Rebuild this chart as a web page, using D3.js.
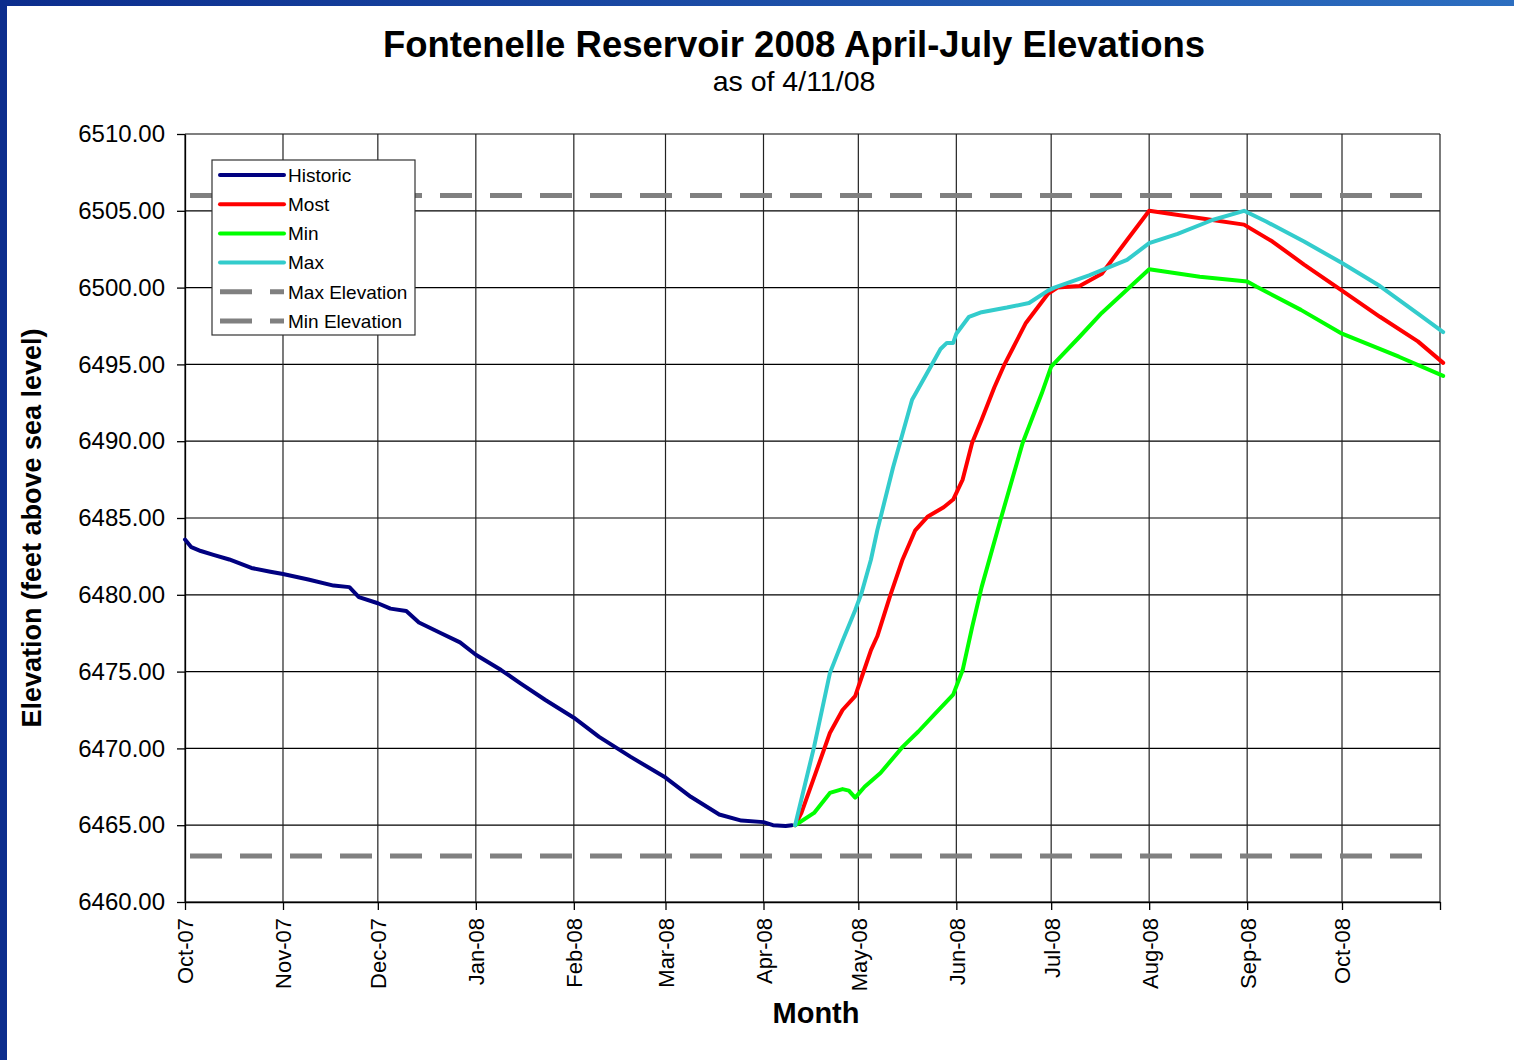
<!DOCTYPE html>
<html>
<head>
<meta charset="utf-8">
<script src="https://cdn.jsdelivr.net/npm/d3@7"></script>
<style>
body { margin:0; background:#fff; }
svg { display:block; font-family:"Liberation Sans", Arial, Helvetica, sans-serif; }
</style>
</head>
<body>
<svg id="chart" width="1514" height="1060"></svg>
<script>
// values (date, feet)
var historic = [
  ["2007-10-01",6483.6],["2007-10-03",6483.1],["2007-10-06",6482.85],["2007-10-10",6482.6],
  ["2007-10-15",6482.3],["2007-10-22",6481.75],["2007-10-28",6481.5],["2007-11-01",6481.35],
  ["2007-11-09",6481.0],["2007-11-17",6480.6],["2007-11-22",6480.5],["2007-11-25",6479.85],
  ["2007-12-01",6479.45],["2007-12-05",6479.1],["2007-12-10",6478.95],["2007-12-14",6478.2],
  ["2007-12-21",6477.5],["2007-12-27",6476.9],["2008-01-01",6476.1],["2008-01-09",6475.1],
  ["2008-01-15",6474.25],["2008-01-23",6473.15],["2008-02-01",6472.0],["2008-02-09",6470.75],
  ["2008-02-19",6469.45],["2008-03-01",6468.1],["2008-03-09",6466.85],["2008-03-18",6465.7],
  ["2008-03-25",6465.3],["2008-04-01",6465.2],["2008-04-04",6465.0],["2008-04-08",6464.95],
  ["2008-04-10",6465.0]
];
var most = [
  ["2008-04-11",6465.0],["2008-04-13",6465.8],["2008-04-22",6471.0],["2008-04-26",6472.5],
  ["2008-04-30",6473.4],["2008-05-02",6474.6],["2008-05-05",6476.4],["2008-05-07",6477.3],
  ["2008-05-11",6479.9],["2008-05-15",6482.3],["2008-05-19",6484.2],["2008-05-23",6485.1],
  ["2008-05-28",6485.7],["2008-05-31",6486.2],["2008-06-03",6487.5],["2008-06-06",6489.9],
  ["2008-06-09",6491.4],["2008-06-13",6493.5],["2008-06-16",6494.9],["2008-06-19",6496.1],
  ["2008-06-23",6497.7],["2008-06-30",6499.6],["2008-07-03",6500.0],["2008-07-10",6500.1],
  ["2008-07-17",6500.9],["2008-07-25",6503.1],["2008-08-01",6505.0],["2008-08-21",6504.4],
  ["2008-08-31",6504.1],["2008-09-09",6503.0],["2008-09-19",6501.5],["2008-10-01",6499.8],
  ["2008-10-13",6498.1],["2008-10-25",6496.5],["2008-11-02",6495.1]
];
var minRun = [
  ["2008-04-11",6465.0],["2008-04-17",6465.8],["2008-04-22",6467.1],["2008-04-26",6467.35],
  ["2008-04-28",6467.25],["2008-04-30",6466.8],["2008-05-03",6467.5],["2008-05-08",6468.4],
  ["2008-05-15",6470.1],["2008-05-20",6471.1],["2008-05-25",6472.2],["2008-05-31",6473.5],
  ["2008-06-03",6475.1],["2008-06-06",6477.9],["2008-06-09",6480.5],["2008-06-15",6484.9],
  ["2008-06-22",6489.9],["2008-06-28",6493.1],["2008-07-01",6494.85],["2008-07-04",6495.5],
  ["2008-07-10",6496.8],["2008-07-17",6498.35],["2008-07-26",6500.05],["2008-08-01",6501.2],
  ["2008-08-17",6500.7],["2008-09-01",6500.4],["2008-09-04",6500.05],["2008-09-18",6498.55],
  ["2008-10-01",6497.0],["2008-10-19",6495.5],["2008-11-02",6494.25]
];
var maxRun = [
  ["2008-04-11",6465.0],["2008-04-17",6470.1],["2008-04-22",6474.9],["2008-04-26",6477.0],
  ["2008-04-30",6479.0],["2008-05-02",6480.1],["2008-05-05",6482.3],["2008-05-07",6484.2],
  ["2008-05-12",6488.3],["2008-05-18",6492.7],["2008-05-24",6494.9],["2008-05-27",6496.0],
  ["2008-05-29",6496.4],["2008-05-31",6496.4],["2008-06-01",6497.0],["2008-06-05",6498.1],
  ["2008-06-09",6498.4],["2008-06-17",6498.7],["2008-06-24",6499.0],["2008-06-30",6499.8],
  ["2008-07-02",6500.0],["2008-07-13",6500.8],["2008-07-25",6501.8],["2008-08-01",6502.9],
  ["2008-08-10",6503.5],["2008-08-21",6504.4],["2008-08-31",6505.0],["2008-09-07",6504.3],
  ["2008-09-19",6503.0],["2008-10-01",6501.6],["2008-10-13",6500.1],["2008-10-25",6498.3],
  ["2008-11-02",6497.1]
];
var maxElevation = 6506;
var minElevation = 6463;
var yTicks = [6460,6465,6470,6475,6480,6485,6490,6495,6500,6505,6510];
var dateRange = ["2007-10-01","2008-11-01"];
var seriesNames = ["Historic","Most","Min","Max","Max Elevation","Min Elevation"];
var seriesColors = ["#000080","#ff0000","#00ff00","#33cccc","#808080","#808080"];

var parse = d3.utcParse("%Y-%m-%d");
var svg = d3.select("#chart");

// slide frame
var grad = svg.append("defs").append("linearGradient").attr("id","band");
grad.append("stop").attr("offset","0%").attr("stop-color","#0c2d8d");
grad.append("stop").attr("offset","100%").attr("stop-color","#2c6ec0");
svg.append("rect").attr("x",0).attr("y",0).attr("width",1514).attr("height",6).attr("fill","url(#band)");
svg.append("rect").attr("x",0).attr("y",0).attr("width",7).attr("height",1060).attr("fill","#0c2d8d");

var x = d3.scaleUtc()
    .domain(dateRange.map(parse))
    .range([185, 1440]);
var y = d3.scaleLinear()
    .domain([6460, 6510])
    .range([902, 134]);
var months = x.ticks(d3.utcMonth.every(1));

// grid
svg.append("g")
   .selectAll("line.h")
   .data(yTicks)
   .enter().append("line")
     .attr("x1", 185).attr("x2", 1440)
     .attr("y1", function(d) { return y(d); })
     .attr("y2", function(d) { return y(d); })
     .attr("stroke", "#000").attr("stroke-width", 1.2);
svg.append("g")
   .selectAll("line.v")
   .data(months)
   .enter().append("line")
     .attr("x1", function(d) { return x(d); })
     .attr("x2", function(d) { return x(d); })
     .attr("y1", 134).attr("y2", 902)
     .attr("stroke", "#222").attr("stroke-width", 1.2);

// axes
var yAxis = svg.append("g")
    .attr("transform", "translate(185,0)")
    .call(d3.axisLeft(y).tickValues(yTicks).tickSizeInner(8).tickSizeOuter(0).tickPadding(12).tickFormat(d3.format(".2f")));
yAxis.selectAll("text").attr("font-size", 24).attr("fill", "#000").attr("font-family", null);
yAxis.selectAll("line, path").attr("stroke", "#000").attr("stroke-width", 1.3);

var last = months[months.length - 1];
var xAxis = svg.append("g")
    .attr("transform", "translate(0,902)")
    .call(d3.axisBottom(x).tickValues(months).tickSizeInner(8).tickSizeOuter(0)
      .tickFormat(function(d) { return +d === +last ? "" : d3.utcFormat("%b-%y")(d); }));
xAxis.selectAll("text")
    .attr("font-size", 22).attr("fill", "#000").attr("font-family", null)
    .attr("text-anchor", "end")
    .attr("transform", "rotate(-90)")
    .attr("x", -16).attr("y", 0).attr("dy", "0.36em");
xAxis.selectAll("line, path").attr("stroke", "#000").attr("stroke-width", 1.3);

// series
var line = d3.line()
    .x(function(d) { return x(parse(d[0])); })
    .y(function(d) { return y(d[1]); });

var flat = function(v) { return dateRange.map(function(d) { return [d, v]; }); };

var series = [historic, most, minRun, maxRun, flat(maxElevation), flat(minElevation)];
series.forEach(function(s, i) {
  var p = svg.append("path")
      .attr("d", line(s))
      .attr("fill", "none")
      .attr("stroke", seriesColors[i])
      .attr("stroke-linejoin", "round")
      .attr("stroke-linecap", "round")
      .attr("stroke-width", 4);
  if (i > 3) {
    p.attr("stroke-width", 5).attr("stroke-linecap", "butt")
     .attr("stroke-dasharray", "32,18").attr("stroke-dashoffset", 45);
  }
});

// legend
var legend = svg.append("g").attr("transform", "translate(212,160)");
legend.append("rect")
    .attr("width", 203).attr("height", 175)
    .attr("fill", "#fff").attr("stroke", "#333").attr("stroke-width", 1.2);
var item = legend.selectAll("g.item")
    .data(seriesNames)
    .enter().append("g")
      .attr("transform", function(d, i) { return "translate(0," + (15 + i * 29.2) + ")"; });
item.append("line")
    .attr("x1", 8).attr("x2", 72)
    .attr("stroke", function(d, i) { return seriesColors[i]; })
    .attr("stroke-width", function(d, i) { return i > 3 ? 5 : 4; })
    .attr("stroke-linecap", function(d, i) { return i > 3 ? "butt" : "round"; })
    .attr("stroke-dasharray", function(d, i) { return i > 3 ? "32,18" : null; });
item.append("text")
    .attr("x", 76).attr("dy", "0.36em")
    .attr("font-size", 19)
    .text(function(d) { return d; });

// titles
svg.append("text")
    .attr("x", 794).attr("y", 57)
    .attr("text-anchor", "middle").attr("font-size", 36.5).attr("font-weight", "bold")
    .text("Fontenelle Reservoir 2008 April-July Elevations");
svg.append("text")
    .attr("x", 794).attr("y", 91)
    .attr("text-anchor", "middle").attr("font-size", 28.5)
    .text("as of 4/11/08");
svg.append("text")
    .attr("x", 816).attr("y", 1023)
    .attr("text-anchor", "middle").attr("font-size", 29).attr("font-weight", "bold")
    .text("Month");
svg.append("text")
    .attr("transform", "translate(41,528) rotate(-90)")
    .attr("text-anchor", "middle").attr("font-size", 27).attr("font-weight", "bold")
    .text("Elevation (feet above sea level)");
</script>
</body>
</html>
